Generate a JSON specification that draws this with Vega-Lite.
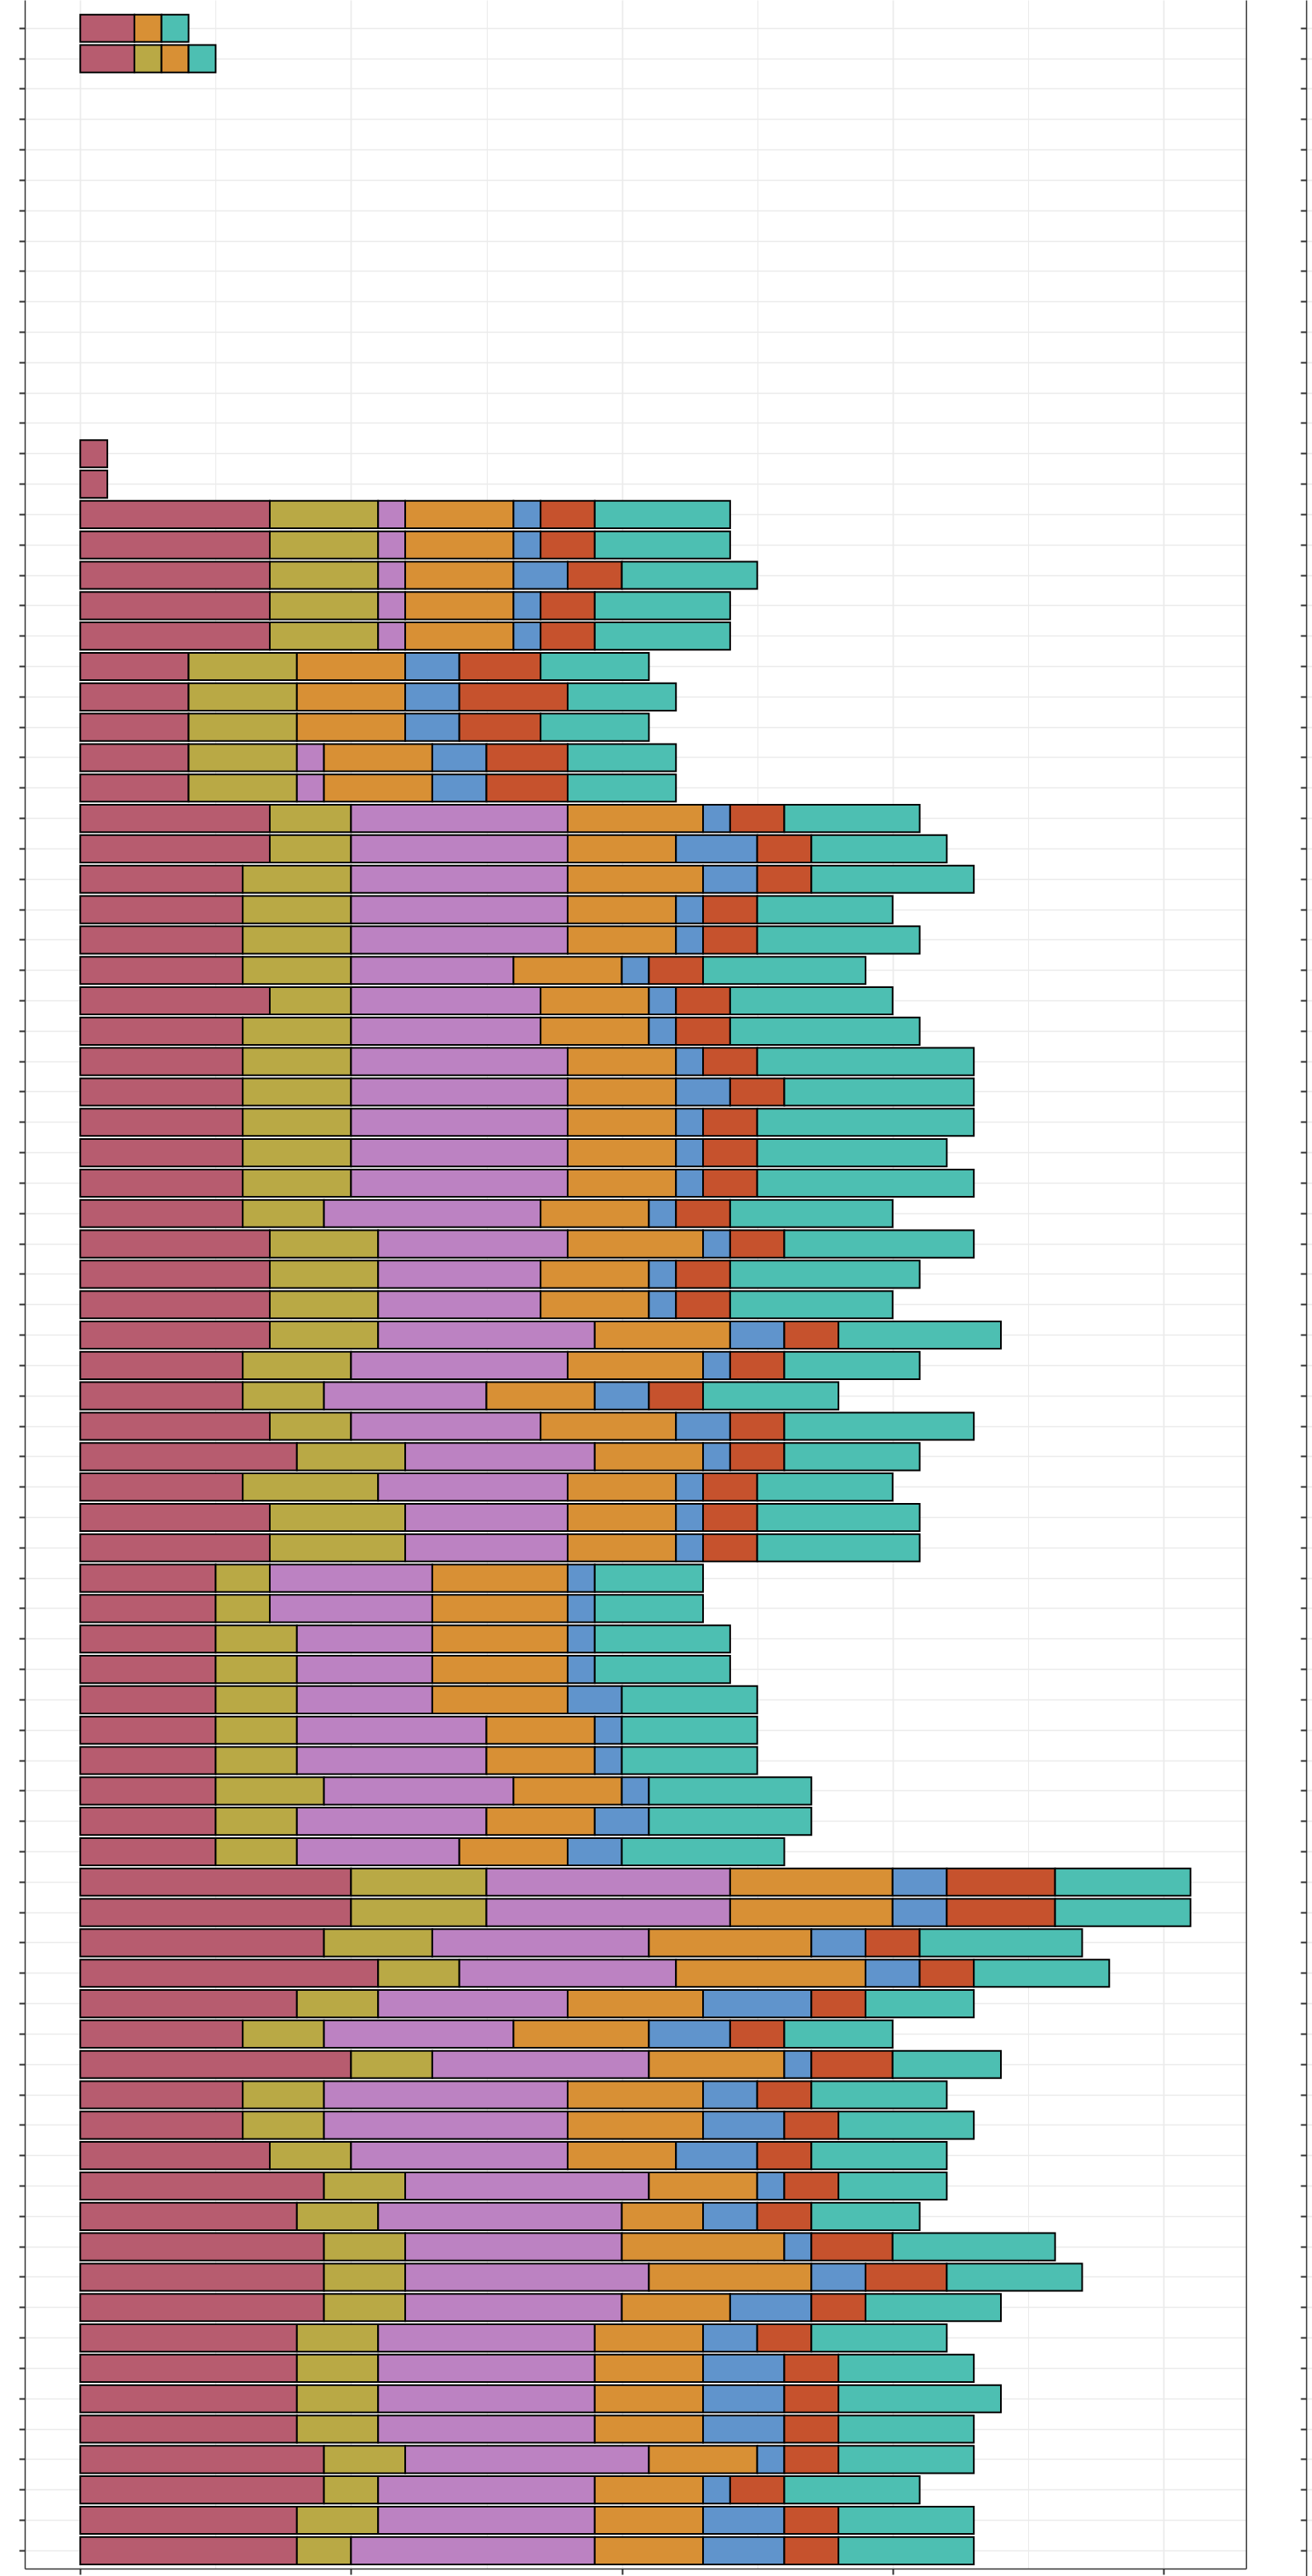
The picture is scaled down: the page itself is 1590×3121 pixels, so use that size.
{
  "$schema": "https://vega.github.io/schema/vega-lite/v6.json",
  "padding": {"left": 22, "top": 0, "right": 0, "bottom": 0},
  "background": "white",
  "config": {"view": {"stroke": null}},
  "spacing": 65,
  "data": {"values": [
    {"r":"r01","s1":2,"s2":0,"s3":0,"s4":1,"s5":0,"s6":0,"s7":1},
    {"r":"r02","s1":2,"s2":1,"s3":0,"s4":1,"s5":0,"s6":0,"s7":1},
    {"r":"r15","s1":1,"s2":0,"s3":0,"s4":0,"s5":0,"s6":0,"s7":0},
    {"r":"r16","s1":1,"s2":0,"s3":0,"s4":0,"s5":0,"s6":0,"s7":0},
    {"r":"r17","s1":7,"s2":4,"s3":1,"s4":4,"s5":1,"s6":2,"s7":5},
    {"r":"r18","s1":7,"s2":4,"s3":1,"s4":4,"s5":1,"s6":2,"s7":5},
    {"r":"r19","s1":7,"s2":4,"s3":1,"s4":4,"s5":2,"s6":2,"s7":5},
    {"r":"r20","s1":7,"s2":4,"s3":1,"s4":4,"s5":1,"s6":2,"s7":5},
    {"r":"r21","s1":7,"s2":4,"s3":1,"s4":4,"s5":1,"s6":2,"s7":5},
    {"r":"r22","s1":4,"s2":4,"s3":0,"s4":4,"s5":2,"s6":3,"s7":4},
    {"r":"r23","s1":4,"s2":4,"s3":0,"s4":4,"s5":2,"s6":4,"s7":4},
    {"r":"r24","s1":4,"s2":4,"s3":0,"s4":4,"s5":2,"s6":3,"s7":4},
    {"r":"r25","s1":4,"s2":4,"s3":1,"s4":4,"s5":2,"s6":3,"s7":4},
    {"r":"r26","s1":4,"s2":4,"s3":1,"s4":4,"s5":2,"s6":3,"s7":4},
    {"r":"r27","s1":7,"s2":3,"s3":8,"s4":5,"s5":1,"s6":2,"s7":5},
    {"r":"r28","s1":7,"s2":3,"s3":8,"s4":4,"s5":3,"s6":2,"s7":5},
    {"r":"r29","s1":6,"s2":4,"s3":8,"s4":5,"s5":2,"s6":2,"s7":6},
    {"r":"r30","s1":6,"s2":4,"s3":8,"s4":4,"s5":1,"s6":2,"s7":5},
    {"r":"r31","s1":6,"s2":4,"s3":8,"s4":4,"s5":1,"s6":2,"s7":6},
    {"r":"r32","s1":6,"s2":4,"s3":6,"s4":4,"s5":1,"s6":2,"s7":6},
    {"r":"r33","s1":7,"s2":3,"s3":7,"s4":4,"s5":1,"s6":2,"s7":6},
    {"r":"r34","s1":6,"s2":4,"s3":7,"s4":4,"s5":1,"s6":2,"s7":7},
    {"r":"r35","s1":6,"s2":4,"s3":8,"s4":4,"s5":1,"s6":2,"s7":8},
    {"r":"r36","s1":6,"s2":4,"s3":8,"s4":4,"s5":2,"s6":2,"s7":7},
    {"r":"r37","s1":6,"s2":4,"s3":8,"s4":4,"s5":1,"s6":2,"s7":8},
    {"r":"r38","s1":6,"s2":4,"s3":8,"s4":4,"s5":1,"s6":2,"s7":7},
    {"r":"r39","s1":6,"s2":4,"s3":8,"s4":4,"s5":1,"s6":2,"s7":8},
    {"r":"r40","s1":6,"s2":3,"s3":8,"s4":4,"s5":1,"s6":2,"s7":6},
    {"r":"r41","s1":7,"s2":4,"s3":7,"s4":5,"s5":1,"s6":2,"s7":7},
    {"r":"r42","s1":7,"s2":4,"s3":6,"s4":4,"s5":1,"s6":2,"s7":7},
    {"r":"r43","s1":7,"s2":4,"s3":6,"s4":4,"s5":1,"s6":2,"s7":6},
    {"r":"r44","s1":7,"s2":4,"s3":8,"s4":5,"s5":2,"s6":2,"s7":6},
    {"r":"r45","s1":6,"s2":4,"s3":8,"s4":5,"s5":1,"s6":2,"s7":5},
    {"r":"r46","s1":6,"s2":3,"s3":6,"s4":4,"s5":2,"s6":2,"s7":5},
    {"r":"r47","s1":7,"s2":3,"s3":7,"s4":5,"s5":2,"s6":2,"s7":7},
    {"r":"r48","s1":8,"s2":4,"s3":7,"s4":4,"s5":1,"s6":2,"s7":5},
    {"r":"r49","s1":6,"s2":5,"s3":7,"s4":4,"s5":1,"s6":2,"s7":5},
    {"r":"r50","s1":7,"s2":5,"s3":6,"s4":4,"s5":1,"s6":2,"s7":6},
    {"r":"r51","s1":7,"s2":5,"s3":6,"s4":4,"s5":1,"s6":2,"s7":6},
    {"r":"r52","s1":5,"s2":2,"s3":6,"s4":5,"s5":1,"s6":0,"s7":4},
    {"r":"r53","s1":5,"s2":2,"s3":6,"s4":5,"s5":1,"s6":0,"s7":4},
    {"r":"r54","s1":5,"s2":3,"s3":5,"s4":5,"s5":1,"s6":0,"s7":5},
    {"r":"r55","s1":5,"s2":3,"s3":5,"s4":5,"s5":1,"s6":0,"s7":5},
    {"r":"r56","s1":5,"s2":3,"s3":5,"s4":5,"s5":2,"s6":0,"s7":5},
    {"r":"r57","s1":5,"s2":3,"s3":7,"s4":4,"s5":1,"s6":0,"s7":5},
    {"r":"r58","s1":5,"s2":3,"s3":7,"s4":4,"s5":1,"s6":0,"s7":5},
    {"r":"r59","s1":5,"s2":4,"s3":7,"s4":4,"s5":1,"s6":0,"s7":6},
    {"r":"r60","s1":5,"s2":3,"s3":7,"s4":4,"s5":2,"s6":0,"s7":6},
    {"r":"r61","s1":5,"s2":3,"s3":6,"s4":4,"s5":2,"s6":0,"s7":6},
    {"r":"r62","s1":10,"s2":5,"s3":9,"s4":6,"s5":2,"s6":4,"s7":5},
    {"r":"r63","s1":10,"s2":5,"s3":9,"s4":6,"s5":2,"s6":4,"s7":5},
    {"r":"r64","s1":9,"s2":4,"s3":8,"s4":6,"s5":2,"s6":2,"s7":6},
    {"r":"r65","s1":11,"s2":3,"s3":8,"s4":7,"s5":2,"s6":2,"s7":5},
    {"r":"r66","s1":8,"s2":3,"s3":7,"s4":5,"s5":4,"s6":2,"s7":4},
    {"r":"r67","s1":6,"s2":3,"s3":7,"s4":5,"s5":3,"s6":2,"s7":4},
    {"r":"r68","s1":10,"s2":3,"s3":8,"s4":5,"s5":1,"s6":3,"s7":4},
    {"r":"r69","s1":6,"s2":3,"s3":9,"s4":5,"s5":2,"s6":2,"s7":5},
    {"r":"r70","s1":6,"s2":3,"s3":9,"s4":5,"s5":3,"s6":2,"s7":5},
    {"r":"r71","s1":7,"s2":3,"s3":8,"s4":4,"s5":3,"s6":2,"s7":5},
    {"r":"r72","s1":9,"s2":3,"s3":9,"s4":4,"s5":1,"s6":2,"s7":4},
    {"r":"r73","s1":8,"s2":3,"s3":9,"s4":3,"s5":2,"s6":2,"s7":4},
    {"r":"r74","s1":9,"s2":3,"s3":8,"s4":6,"s5":1,"s6":3,"s7":6},
    {"r":"r75","s1":9,"s2":3,"s3":9,"s4":6,"s5":2,"s6":3,"s7":5},
    {"r":"r76","s1":9,"s2":3,"s3":8,"s4":4,"s5":3,"s6":2,"s7":5},
    {"r":"r77","s1":8,"s2":3,"s3":8,"s4":4,"s5":2,"s6":2,"s7":5},
    {"r":"r78","s1":8,"s2":3,"s3":8,"s4":4,"s5":3,"s6":2,"s7":5},
    {"r":"r79","s1":8,"s2":3,"s3":8,"s4":4,"s5":3,"s6":2,"s7":6},
    {"r":"r80","s1":8,"s2":3,"s3":8,"s4":4,"s5":3,"s6":2,"s7":5},
    {"r":"r81","s1":9,"s2":3,"s3":9,"s4":4,"s5":1,"s6":2,"s7":5},
    {"r":"r82","s1":9,"s2":2,"s3":8,"s4":4,"s5":1,"s6":2,"s7":5},
    {"r":"r83","s1":8,"s2":3,"s3":8,"s4":4,"s5":3,"s6":2,"s7":5},
    {"r":"r84","s1":8,"s2":2,"s3":9,"s4":4,"s5":3,"s6":2,"s7":5}
  ]},
  "transform": [
    {"fold": ["s1","s2","s3","s4","s5","s6","s7"], "as": ["seg","v"]},
    {"filter": "datum.v > 0"}
  ],
  "hconcat": [
    {
      "width": 1480,
      "height": 3112,
      "layer": [
        {
          "mark": {"type": "bar", "stroke": "black", "strokeWidth": 2},
          "encoding": {
            "y": {"field": "r", "type": "ordinal",
              "scale": {"domain": ["r01","r02","r03","r04","r05","r06","r07","r08","r09","r10","r11","r12","r13","r14","r15","r16","r17","r18","r19","r20","r21","r22","r23","r24","r25","r26","r27","r28","r29","r30","r31","r32","r33","r34","r35","r36","r37","r38","r39","r40","r41","r42","r43","r44","r45","r46","r47","r48","r49","r50","r51","r52","r53","r54","r55","r56","r57","r58","r59","r60","r61","r62","r63","r64","r65","r66","r67","r68","r69","r70","r71","r72","r73","r74","r75","r76","r77","r78","r79","r80","r81","r82","r83","r84"],
                "paddingInner": 0.1, "paddingOuter": 0.31, "align": 0.7766},
              "axis": {"orient": "left", "labels": false, "title": null, "domain": true, "domainColor": "#333333", "domainWidth": 1.5,
                "ticks": true, "tickColor": "#333333", "tickWidth": 2, "tickSize": 7, "bandPosition": 0.5,
                "grid": true, "gridColor": "#EBEBEB", "gridWidth": 1.7}},
            "x": {"field": "v", "type": "quantitative", "stack": "zero",
              "scale": {"domain": [-2.05, 43.05], "nice": false, "zero": false},
              "axis": {"orient": "bottom", "values": [0,10,20,30,40], "labels": false, "title": null,
                "domain": true, "domainColor": "#333333", "domainWidth": 1.5,
                "ticks": true, "tickColor": "#333333", "tickWidth": 2, "tickSize": 7,
                "grid": true, "gridColor": "#EBEBEB", "gridWidth": 1.8}},
            "color": {"field": "seg", "type": "nominal", "legend": null,
              "scale": {"domain": ["s1","s2","s3","s4","s5","s6","s7"],
                "range": ["#B75C6F","#B9A945","#BC82C2","#D89035","#6094CC","#C6522D","#4DBFB2"]}},
            "order": {"field": "seg", "sort": "ascending"}
          }
        },
        {
          "mark": {"type": "bar", "opacity": 0},
          "encoding": {
            "y": {"field": "r", "type": "ordinal",
              "axis": {"orient": "right", "labels": false, "title": null, "ticks": false, "grid": false,
                "domain": true, "domainColor": "#333333", "domainWidth": 1.5}},
            "x": {"field": "v", "type": "quantitative", "stack": "zero",
              "axis": {"orient": "top", "values": [5,15,25,35], "labels": false, "title": null, "ticks": false,
                "domain": false, "grid": true, "gridColor": "#EBEBEB", "gridWidth": 1.1}},
            "order": {"field": "seg", "sort": "ascending"}
          }
        }
      ],
      "resolve": {"axis": {"x": "independent", "y": "independent"}}
    },
    {
      "width": 7,
      "height": 3121,
      "mark": {"type": "point", "opacity": 0},
      "encoding": {
        "y": {"field": "r", "type": "ordinal",
          "scale": {"type": "band", "domain": ["r01","r02","r03","r04","r05","r06","r07","r08","r09","r10","r11","r12","r13","r14","r15","r16","r17","r18","r19","r20","r21","r22","r23","r24","r25","r26","r27","r28","r29","r30","r31","r32","r33","r34","r35","r36","r37","r38","r39","r40","r41","r42","r43","r44","r45","r46","r47","r48","r49","r50","r51","r52","r53","r54","r55","r56","r57","r58","r59","r60","r61","r62","r63","r64","r65","r66","r67","r68","r69","r70","r71","r72","r73","r74","r75","r76","r77","r78","r79","r80","r81","r82","r83","r84"],
            "paddingInner": 0.1, "paddingOuter": 0.432, "align": 0.5574},
          "axis": {"orient": "left", "labels": false, "title": null, "domain": true, "domainColor": "#333333", "domainWidth": 1.5,
            "ticks": true, "tickColor": "#333333", "tickWidth": 2, "tickSize": 7, "bandPosition": 0.5,
            "grid": true, "gridColor": "#EBEBEB", "gridWidth": 1.7}}
      }
    }
  ]
}
